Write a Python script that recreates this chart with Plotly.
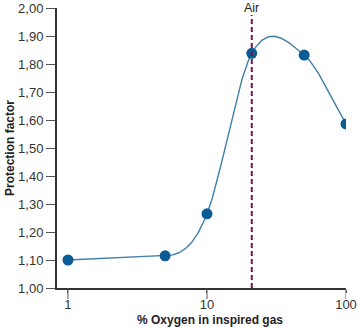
import math
import numpy as np
import plotly.graph_objects as go

oxygen = [1, 5, 10, 21, 50, 100]
protection = [1.10, 1.115, 1.265, 1.838, 1.832, 1.586]
air_x = 21
y_ticks = [1.0, 1.1, 1.2, 1.3, 1.4, 1.5, 1.6, 1.7, 1.8, 1.9, 2.0]
x_ticks = [1, 10, 100]

# smooth curve: cubic Hermite in log-x space
u = np.log10(np.array(oxygen, dtype=float))
y = np.array(protection)
n = len(u)
sec = np.diff(y) / np.diff(u)
m = np.zeros(n)
m[0] = sec[0]
m[-1] = sec[-1]
for i in range(1, n - 1):
    m[i] = 1.1 * (y[i + 1] - y[i - 1]) / (u[i + 1] - u[i - 1])
m[1] = sec[0]  # flat low-oxygen plateau stays straight
cu, cy = [], []
for i in range(n - 1):
    h = u[i + 1] - u[i]
    t = np.linspace(0, 1, 40, endpoint=(i == n - 2))
    h00 = 2 * t**3 - 3 * t**2 + 1
    h10 = t**3 - 2 * t**2 + t
    h01 = -2 * t**3 + 3 * t**2
    h11 = t**3 - t**2
    cu.extend(u[i] + t * h)
    cy.extend(h00 * y[i] + h10 * h * m[i] + h01 * y[i + 1] + h11 * h * m[i + 1])
curve_x = 10 ** np.array(cu)
curve_y = np.array(cy)

fig = go.Figure()
fig.add_trace(go.Scatter(
    x=curve_x, y=curve_y, mode="lines",
    line=dict(color="#3f7fa8", width=1.4),
    hoverinfo="skip", showlegend=False))
fig.add_trace(go.Scatter(
    x=oxygen, y=protection, mode="markers",
    marker=dict(size=11, color="#0b5b95"), showlegend=False))

# longer x tick marks (labels stay close to the axis)
for xv in x_ticks:
    fig.add_shape(type="line", xref="x", yref="paper", x0=xv, x1=xv,
                  ysizemode="pixel", yanchor=0, y0=0, y1=-11,
                  line=dict(color="#555", width=1))

fig.add_shape(type="line", xref="x", yref="y", x0=air_x, x1=air_x, y0=1.0, y1=1.975,
              line=dict(color="#7d1446", width=2, dash="5px,3px"))
fig.add_annotation(x=math.log10(air_x), y=2.0, xref="x", yref="y",
                   text="Air", showarrow=False, yanchor="bottom", yshift=-9,
                   font=dict(family="Liberation Sans, Arial", size=12.5, color="#222"))
fig.add_annotation(x=0.53, y=0, xref="paper", yref="paper",
                   text="<b>% Oxygen in inspired gas</b>", showarrow=False,
                   yanchor="middle", yshift=-32,
                   font=dict(family="Liberation Sans, Arial", size=12, color="#222"))
fig.add_annotation(x=0, y=0.5, xref="paper", yref="paper",
                   text="<b>Protection factor</b>", showarrow=False, textangle=-90,
                   xanchor="center", xshift=-47,
                   font=dict(family="Liberation Sans, Arial", size=12, color="#222"))

fig.update_layout(
    width=358, height=327,
    margin=dict(l=57, r=12, t=8, b=39),
    plot_bgcolor="white", paper_bgcolor="white",
    separators=",.",
    font=dict(family="Liberation Sans, Arial", size=13, color="#333"),
)
fig.update_xaxes(
    type="log", range=[-0.079, 2.0], automargin=False,
    tickvals=x_ticks, ticktext=[str(v) for v in x_ticks],
    ticks="outside", ticklen=3, tickwidth=1, tickcolor="#555",
    showline=True, linecolor="#333", linewidth=2, showgrid=False, zeroline=False,
)
fig.update_yaxes(
    range=[1.0, 2.0], tickvals=y_ticks, tickformat=".2f", automargin=False,
    ticks="outside", ticklen=9, tickwidth=1, tickcolor="#555",
    showline=True, linecolor="#333", linewidth=2, showgrid=False, zeroline=False,
)

fig.write_html("out.html")
